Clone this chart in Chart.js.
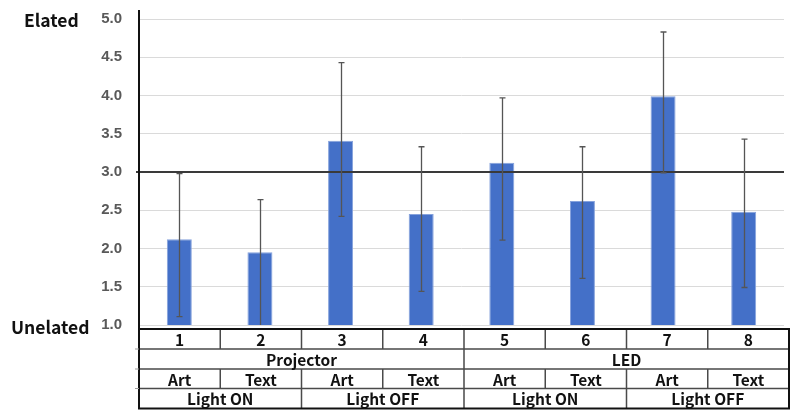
<!DOCTYPE html>
<html>
<head>
<meta charset="utf-8">
<script src="https://cdn.jsdelivr.net/npm/chart.js@4.4.0/dist/chart.umd.min.js"></script>
<style>
  html, body { margin: 0; padding: 0; background: #fff; }
  #wrap { width: 792px; height: 410px; position: relative; }
</style>
</head>
<body>
<div id="wrap"><canvas id="c" width="792" height="410"></canvas></div>
<script>
const categories = ['1', '2', '3', '4', '5', '6', '7', '8'];
const means      = [2.12, 1.95, 3.41, 2.45, 3.12, 2.62, 3.99, 2.48];
const errTop     = [2.98, 2.64, 4.43, 3.33, 3.97, 3.33, 4.83, 3.43];
const errBottom  = [1.11, 1.00, 2.42, 1.44, 2.11, 1.61, 2.99, 1.49];
const devices    = ['Projector', 'LED'];            // each spans 4 columns
const contents   = ['Art', 'Text', 'Art', 'Text', 'Art', 'Text', 'Art', 'Text'];
const lighting   = ['Light ON', 'Light OFF', 'Light ON', 'Light OFF']; // each spans 2 columns
const yMin = 1.0, yMax = 5.0, yStep = 0.5;
const refValue = 3.0;
const topLabel = 'Elated';
const bottomLabel = 'Unelated';

const tableFont = 'bold 15.5px "Noto Sans CJK JP", "Liberation Sans", sans-serif';

const overlay = {
  id: 'overlay',
  afterDatasetsDraw(chart) {
    const ctx = chart.ctx;
    const x = chart.scales.x, y = chart.scales.y;
    const ca = chart.chartArea;
    ctx.save();
    // reference line
    const yr = y.getPixelForValue(refValue);
    ctx.strokeStyle = '#3a3a3a';
    ctx.lineWidth = 2;
    ctx.beginPath();
    ctx.moveTo(ca.left - 3, yr);
    ctx.lineTo(ca.right, yr);
    ctx.stroke();
    // error bars
    ctx.strokeStyle = '#555';
    ctx.lineWidth = 1.3;
    for (let i = 0; i < categories.length; i++) {
      const cx = Math.round(x.getPixelForValue(i)) + 0.5;
      const yt = y.getPixelForValue(errTop[i]);
      const yb = y.getPixelForValue(Math.max(errBottom[i], yMin));
      ctx.beginPath();
      ctx.moveTo(cx, yt);
      ctx.lineTo(cx, yb);
      ctx.moveTo(cx - 3, yt);
      ctx.lineTo(cx + 3, yt);
      if (errBottom[i] > yMin) {
        ctx.moveTo(cx - 3, yb);
        ctx.lineTo(cx + 3, yb);
      }
      ctx.stroke();
    }
    ctx.restore();
  },
  afterDraw(chart) {
    const ctx = chart.ctx;
    const ca = chart.chartArea;
    ctx.save();
    const left = ca.left;
    const right = ca.right + 5;
    const n = categories.length;
    const colW = (right - left) / n;
    const rows = [329, 349, 369, 388.5, 408.5];
    const colX = i => left + i * colW;

    // inner lines
    ctx.strokeStyle = '#4a4a4a';
    ctx.lineWidth = 1.5;
    ctx.beginPath();
    for (let r = 1; r < rows.length - 1; r++) {
      ctx.moveTo(left, rows[r]); ctx.lineTo(right, rows[r]);
    }
    for (let i = 1; i < n; i++) {
      const xx = colX(i);
      ctx.moveTo(xx, rows[0]); ctx.lineTo(xx, rows[1]);
      ctx.moveTo(xx, rows[2]); ctx.lineTo(xx, rows[3]);
      if (i % 4 === 0) { ctx.moveTo(xx, rows[1]); ctx.lineTo(xx, rows[2]); }
      if (i % 2 === 0) { ctx.moveTo(xx, rows[3]); ctx.lineTo(xx, rows[4]); }
    }
    ctx.stroke();
    // outer border
    ctx.strokeStyle = '#111';
    ctx.lineWidth = 2;
    ctx.strokeRect(left, rows[0], right - left, rows[4] - rows[0]);

    // axis line (extends through table)
    ctx.beginPath();
    ctx.moveTo(left, 10);
    ctx.lineTo(left, rows[4]);
    ctx.stroke();

    // small ticks left of table
    ctx.lineWidth = 1;
    ctx.strokeStyle = '#999';
    ctx.beginPath();
    for (let r = 1; r < rows.length - 1; r++) {
      ctx.moveTo(left - 4, rows[r]); ctx.lineTo(left, rows[r]);
    }
    ctx.stroke();

    // texts
    ctx.fillStyle = '#111';
    ctx.font = tableFont;
    ctx.textAlign = 'center';
    ctx.textBaseline = 'middle';
    const mid = r => (rows[r] + rows[r + 1]) / 2 + 1;
    for (let i = 0; i < n; i++) {
      ctx.fillText(categories[i], colX(i) + colW / 2, mid(0));
      ctx.fillText(contents[i], colX(i) + colW / 2, mid(2));
    }
    devices.forEach((d, k) => {
      ctx.fillText(d, colX(k * 4) + colW * 2, mid(1));
    });
    lighting.forEach((d, k) => {
      ctx.fillText(d, colX(k * 2) + colW, mid(3));
    });

    // end labels
    const y = chart.scales.y;
    ctx.font = 'bold 17.5px "Noto Sans CJK JP", "Liberation Sans", sans-serif';
    ctx.textAlign = 'left';
    ctx.fillText(topLabel, 24, y.getPixelForValue(yMax) + 1);
    ctx.fillText(bottomLabel, 11, y.getPixelForValue(yMin) + 2);
    ctx.restore();
  }
};

new Chart(document.getElementById('c'), {
  type: 'bar',
  data: {
    labels: categories,
    datasets: [{
      data: means,
      backgroundColor: '#4470C8',
      borderColor: '#86a2dc',
      borderWidth: 1,
      barPercentage: 0.31,
      categoryPercentage: 1.0
    }]
  },
  options: {
    responsive: false,
    animation: false,
    devicePixelRatio: 1,
    layout: { padding: { top: 19, bottom: 85, right: 8, left: 0 } },
    plugins: { legend: { display: false }, tooltip: { enabled: false } },
    scales: {
      x: { display: false },
      y: {
        min: yMin, max: yMax,
        afterFit(s) { s.width = 139; s.paddingTop = 0; s.paddingBottom = 0; },
        border: { display: false },
        grid: { color: '#dadada', lineWidth: 1, drawTicks: false },
        ticks: {
          stepSize: yStep,
          padding: 17,
          color: '#595959',
          font: { family: '"Liberation Sans", Arial, sans-serif', size: 15, weight: 'bold' },
          callback: v => Number(v).toFixed(1)
        }
      }
    }
  },
  plugins: [overlay]
});
</script>
</body>
</html>
